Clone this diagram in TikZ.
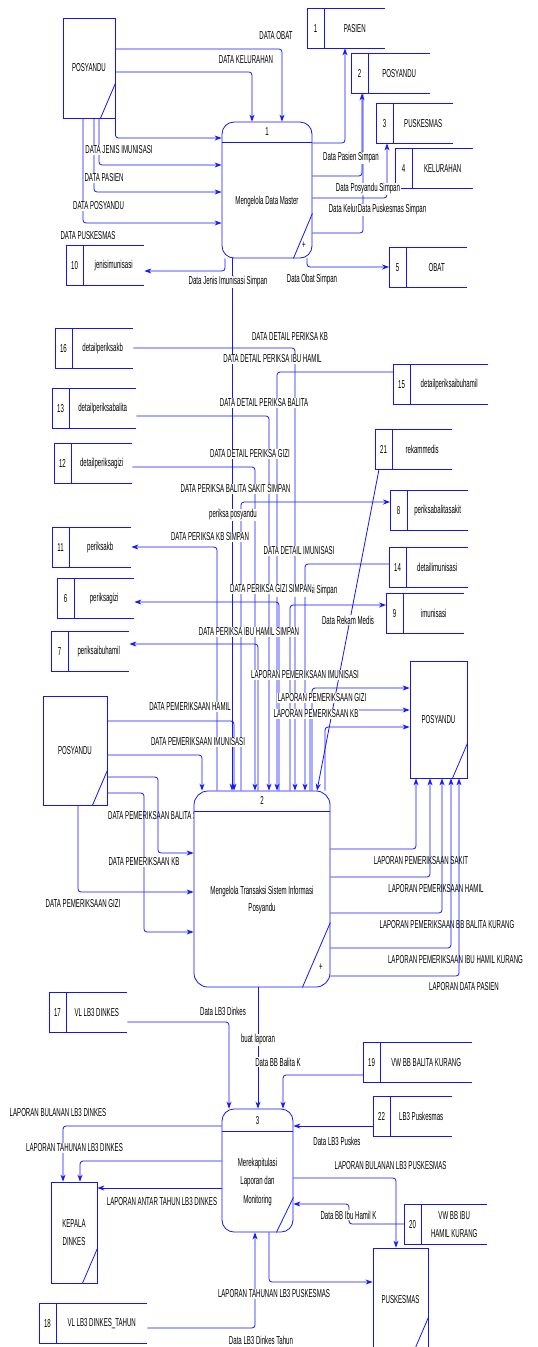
\documentclass[tikz,border=0pt]{standalone}
\usepackage{fontspec}
\setmainfont[FakeStretch=0.53]{Liberation Sans}
\usepackage{tikz}
\usetikzlibrary{arrows.meta,calc,positioning}
\definecolor{dfdblue}{RGB}{20,20,255}

% data store: name, left x, top y, width, number, label
\newcommand{\datastore}[6]{%
  \node[storebox, minimum width=#4pt, anchor=north west] (#1) at (#2,#3) {};
  \draw[line] (#1.north east) -- (#1.north west) -- (#1.south west) -- (#1.south east);
  \draw[line] ([xshift=17pt]#1.north west) -- ([xshift=17pt]#1.south west);
  \node (#1num) at ($(#1.west)+(8.5,0)$) {#5};
  \node[align=center, font=\fontsize{11.5}{18}\selectfont] (#1txt) at ($(#1.center)+(8.5,0)$) {#6};
}

\begin{document}
\begin{tikzpicture}[
        x=1pt, y=-1pt,
        every node/.style={font=\fontsize{11.5}{13}\selectfont, inner sep=1pt},
        line/.style={draw=dfdblue, line width=0.8pt},
        flow/.style={line, rounded corners=3pt, -{Stealth[length=7pt,width=5pt]}},
        lbl/.style={fill=white, inner sep=0.6pt},
        clear/.style={inner sep=0.6pt},
        entity/.style={draw=dfdblue, line width=0.8pt, inner sep=0pt, align=center, font=\fontsize{11.5}{18}\selectfont},
        process/.style={draw=dfdblue, line width=0.8pt, fill=white},
        storebox/.style={inner sep=0pt, minimum height=40pt}
    ]
    \useasboundingbox (0,0) rectangle (538,1347);

    % External entities
    \node[entity, minimum width=52pt, minimum height=100pt] (posyA) at (89,68) {POSYANDU};
    \node[entity, minimum width=57pt, minimum height=117pt] (posyB) at (438.5,719.5) {POSYANDU};
    \node[entity, minimum width=64pt, minimum height=109pt] (posyC) at (75,750.5) {POSYANDU};
    \node[entity, minimum width=46pt, minimum height=101pt] (kepala) at (74,1232.5) {KEPALA\\DINKES};
    \node[entity, minimum width=55pt, minimum height=104pt] (puskE) at (400.5,1300) {PUSKESMAS};
    \foreach \e in {posyA,posyB,posyC,kepala,puskE}
      \draw[line] ($(\e.south east)+(0,-35)$) -- ($(\e.south east)+(-15,0)$);

    % Data stores
    \datastore{pasienS}{307}{8}{78}{1}{PASIEN}
    \datastore{posyS}{351}{53}{79}{2}{POSYANDU}
    \datastore{puskS}{376}{103}{77}{3}{PUSKESMAS}
    \datastore{kelS}{395}{148}{78}{4}{KELURAHAN}
    \datastore{obatS}{389}{247}{78}{5}{OBAT}
    \datastore{jenisS}{66}{245}{78}{10}{jenisimunisasi}
    \datastore{dpkbS}{55}{328}{78}{16}{detailperiksakb}
    \datastore{dpihS}{393}{364}{95}{15}{detailperiksaibuhamil}
    \datastore{dpbS}{52}{388}{84}{13}{detailperiksabalita}
    \datastore{rekamS}{375}{429}{77}{21}{rekammedis}
    \datastore{dpgS}{54}{443}{78}{12}{detailperiksagizi}
    \datastore{pbsS}{390}{490}{78}{8}{periksabalitasakit}
    \datastore{pkbS}{52}{527}{79}{11}{periksakb}
    \datastore{dimS}{389}{547}{79}{14}{detailimunisasi}
    \datastore{pgS}{57}{578}{77}{6}{periksagizi}
    \datastore{imS}{386}{593}{78}{9}{imunisasi}
    \datastore{pihS}{51}{631}{78}{7}{periksaibuhamil}
    \datastore{vlaS}{49}{992}{78}{17}{VL LB3 DINKES}
    \datastore{vwbS}{363}{1042}{109}{19}{VW BB BALITA KURANG}
    \datastore{lbpS}{373}{1096}{79}{22}{LB3 Puskesmas}
    \datastore{vwiS}{404}{1204}{83}{20}{VW BB IBU\\HAMIL KURANG}
    \datastore{vltS}{39}{1303}{108}{18}{VL LB3 DINKES\_TAHUN}

    % hidden label behind process 2
    \node[anchor=west] (lBalita) at (107,816) {DATA PEMERIKSAAN BALITA SAKIT};

    % Processes
    \node[process, rounded corners=12pt, minimum width=90pt, minimum height=136pt] (p1) at (267,190) {};
    \draw[line] ($(p1.north west)+(0,21)$) -- ($(p1.north east)+(0,21)$);
    \node (p1num) at ($(p1.north)+(0,10)$) {1};
    \node (p1txt) at (267,202) {Mengelola Data Master};
    \draw[line] ($(p1.south east)+(0,-45)$) -- ($(p1.south east)+(-19,0)$);
    \node (p1plus) at (304,245) {+};

    \node[process, rounded corners=14pt, minimum width=136pt, minimum height=196pt] (p2) at (262,889) {};
    \draw[line] ($(p2.north west)+(0,21)$) -- ($(p2.north east)+(0,21)$);
    \node (p2num) at ($(p2.north)+(0,10)$) {2};
    \node[align=center, font=\fontsize{11.5}{17}\selectfont] (p2txt) at (262,900) {Mengelola Transaksi Sistem Informasi\\Posyandu};
    \draw[line] ($(p2.south east)+(0,-65)$) -- ($(p2.south east)+(-28,0)$);
    \node (p2plus) at (321,967) {+};

    \node[process, rounded corners=12pt, minimum width=71pt, minimum height=123pt] (p3) at (257.5,1170.5) {};
    \draw[line] ($(p3.north west)+(0,23)$) -- ($(p3.north east)+(0,23)$);
    \node (p3num) at ($(p3.north)+(0,12)$) {3};
    \node[align=center, font=\fontsize{11.5}{18.5}\selectfont] (p3txt) at (257.5,1182) {Merekapitulasi\\Laporan dan\\Monitoring};
    \draw[line] ($(p3.south east)+(0,-35)$) -- ($(p3.south east)+(-17,0)$);

    % Flows of process 1
    \draw[flow] (posyA.east |- 0,49) -| (p1.north -| 282,0);
    \draw[flow] (posyA.east |- 0,72) -| (p1.north -| 252,0);
    \draw[flow] (posyA.south east) |- (p1.west |- 0,138);
    \draw[flow] (posyA.south -| 99,0) |- (p1.west |- 0,165);
    \draw[flow] (posyA.south -| 94,0) |- (p1.west |- 0,192);
    \draw[flow] (posyA.south -| 83,0) |- (p1.west |- 0,223);
    \draw[flow] (p1.east |- 0,143) -| (pasienS.south -| 345,0);
    \draw[flow] (p1.east |- 0,176) -| (posyS.south -| 362,0);
    \draw[flow] (p1.east |- 0,198) -| (puskS.south -| 387,0);
    \draw[line, rounded corners=3pt] (p1.east |- 0,233) -| (posyS.south -| 363,0);
    \draw[flow] (p1.south -| 307,0) |- (obatS.west |- 0,267);
    \draw[flow] (p1.south -| 225,0) |- (jenisS.east |- 0,271);
    \draw[flow] (p1.south -| 232,0) -- (p2.north -| 232,0);

    % Flows of process 2, top
    \draw[flow] (dpkbS.east |- 0,348) -| (p2.north -| 295,0);
    \draw[flow] (dpihS.west |- 0,372) -| (p2.north -| 277,0);
    \draw[flow] (dpbS.east |- 0,416) -| (p2.north -| 269,0);
    \draw[flow] (dpgS.east |- 0,467) -| (p2.north -| 255,0);
    \draw[flow] (p2.north -| 241,0) |- (pbsS.west |- 0,502);
    \draw[flow] (p2.north -| 217,0) |- (pkbS.east |- 0,547);
    \draw[flow] (dimS.west |- 0,564) -| (p2.north -| 305,0);
    \draw[flow] (rekamS.south -| 379,0) -- (p2.north -| 317,0);
    \draw[flow] (p2.north -| 279,0) |- (pgS.east |- 0,602);
    \draw[flow] (p2.north -| 290,0) |- (imS.west |- 0,605);
    \draw[flow] (p2.north -| 258,0) |- (pihS.east |- 0,644);
    \draw[flow] (p2.north -| 312,0) |- (posyB.west |- 0,688);
    \draw[flow] (p2.north -| 310,0) |- (posyB.west |- 0,710);
    \draw[flow] (p2.north -| 325,0) |- (posyB.west |- 0,727);

    % Flows of process 2, left and right
    \draw[flow] (posyC.east |- 0,721) -| (p2.north -| 234,0);
    \draw[flow] (posyC.east |- 0,755) -| (p2.north -| 202,0);
    \draw[flow] (posyC.east |- 0,777) -| (158,853) -- (p2.west |- 0,853);
    \draw[flow] (posyC.south -| 78,0) |- (p2.west |- 0,892);
    \draw[flow] (posyC.east |- 0,793) -| (144,932) -- (p2.west |- 0,932);
    \draw[flow] (p2.east |- 0,849) -| (posyB.south -| 416,0);
    \draw[flow] (p2.east |- 0,877) -| (posyB.south -| 430,0);
    \draw[flow] (p2.east |- 0,913) -| (posyB.south -| 442,0);
    \draw[flow] (p2.east |- 0,948) -| (posyB.south -| 451,0);
    \draw[flow] (p2.east |- 0,976) -| (posyB.south -| 459,0);

    % Flows of process 3
    \draw[flow] (p2.south -| 258,0) -- (p3.north -| 258,0);
    \draw[flow] (vlaS.east |- 0,1022) -| (p3.north -| 229,0);
    \draw[flow] (vwbS.west |- 0,1075) -| (p3.north -| 283,0);
    \draw[flow] (lbpS.west |- 0,1126) -- (p3.east |- 0,1126);
    \draw[flow] (p3.east |- 0,1178) -| (puskE.north -| 396,0);
    \draw[flow] (vwiS.west |- 0,1224) -| (349,1204) -- (p3.east |- 0,1204);
    \draw[flow] (p3.south -| 269,0) |- (puskE.west |- 0,1282);
    \draw[flow] (vltS.east |- 0,1328) -| (p3.south -| 255,0);
    \draw[flow] (p3.west |- 0,1126) -| (kepala.north -| 63,0);
    \draw[flow] (p3.west |- 0,1161) -| (kepala.north -| 80,0);
    \draw[flow] (p3.west |- 0,1188) -- (kepala.east |- 0,1188);

    % Labels
    \node[lbl] (lObat) at (276,36) {DATA OBAT};
    \node[lbl] (lKel) at (246,60) {DATA KELURAHAN};
    \node[lbl] (lJenis) at (119,150) {DATA JENIS IMUNISASI};
    \node[lbl] (lPasien) at (104,178) {DATA PASIEN};
    \node[lbl] (lPosy) at (98.5,206) {DATA POSYANDU};
    \node[lbl] (lPusk) at (88,236) {DATA PUSKESMAS};
    \node[lbl] (lPasienS) at (351,158) {Data Pasien Simpan};
    \node[lbl] (lPosyS) at (368,189) {Data Posyandu Simpan};
    \node[lbl, anchor=west] (lKelS) at (328,210) {Data Kelurahan Simpan};
    \node[lbl] (lPuskS) at (392,210) {Data Puskesmas Simpan};
    \node[lbl] (lJenisS) at (228,282) {Data Jenis Imunisasi Simpan};
    \node[lbl] (lObatS) at (312,280) {Data Obat Simpan};
    \node[lbl] (lDpkb) at (290,337) {DATA DETAIL PERIKSA KB};
    \node[lbl] (lDpih) at (272.5,359) {DATA DETAIL PERIKSA IBU HAMIL};
    \node[lbl] (lDpb) at (264,403) {DATA DETAIL PERIKSA BALITA};
    \node[lbl] (lDpg) at (250,454) {DATA DETAIL PERIKSA GIZI};
    \node[lbl] (lPbs) at (235.5,489) {DATA PERIKSA BALITA SAKIT SIMPAN};
    \node[lbl] (lP12) at (233,515) {periksa posyandu};
    \node[lbl] (lPkb) at (210,537) {DATA PERIKSA KB SIMPAN};
    \node[lbl] (lDim) at (299,551) {DATA DETAIL IMUNISASI};
    \node[lbl, anchor=east] (lImS) at (338,591) {Data Imunisasi Simpan};
    \node[lbl] (lPg) at (271,589) {DATA PERIKSA GIZI SIMPAN};
    \node[lbl] (lRekam) at (348,620) {Data Rekam Medis};
    \node[lbl] (lPih) at (249,632) {DATA PERIKSA IBU HAMIL SIMPAN};
    \node[lbl] (lLapIm) at (305,675) {LAPORAN PEMERIKSAAN IMUNISASI};
    \node[lbl] (lLapGz) at (322,698) {LAPORAN PEMERIKSAAN GIZI};
    \node[lbl] (lLapKb) at (316,714) {LAPORAN PEMERIKSAAN KB};
    \node[lbl] (lHamil) at (190,707) {DATA PEMERIKSAAN HAMIL};
    \node[lbl] (lImun) at (198,742) {DATA PEMERIKSAAN IMUNISASI};
    \node[lbl] (lKb) at (144,862) {DATA PEMERIKSAAN KB};
    \node[lbl] (lGizi) at (83,904) {DATA PEMERIKSAAN GIZI};
    \node[clear] (lLapSk) at (421,861) {LAPORAN PEMERIKSAAN SAKIT};
    \node[clear] (lLapHm) at (436,889) {LAPORAN PEMERIKSAAN HAMIL};
    \node[clear] (lLapBb) at (447,925) {LAPORAN PEMERIKSAAN BB BALITA KURANG};
    \node[clear] (lLapIh) at (455.5,960) {LAPORAN PEMERIKSAAN IBU HAMIL KURANG};
    \node[clear] (lLapPs) at (464,987) {LAPORAN DATA PASIEN};
    \node[lbl] (lLb3) at (223,1011) {Data LB3 Dinkes};
    \node[lbl] (lBuat) at (258,1040) {buat laporan};
    \node[lbl] (lBbBal) at (278,1062) {Data BB Balita K};
    \node[lbl] (lBulD) at (58,1113) {LAPORAN BULANAN LB3 DINKES};
    \node[lbl] (lLb3P) at (337,1141) {Data LB3 Puskes};
    \node[lbl] (lTahD) at (74.5,1148) {LAPORAN TAHUNAN LB3 DINKES};
    \node[lbl] (lBulP) at (390.5,1166) {LAPORAN BULANAN LB3 PUSKESMAS};
    \node[lbl] (lAntar) at (162,1202) {LAPORAN ANTAR TAHUN LB3 DINKES};
    \node[lbl] (lBbIbu) at (348.5,1215) {Data BB Ibu Hamil K};
    \node[lbl] (lTahP) at (274,1294) {LAPORAN TAHUNAN LB3 PUSKESMAS};
    \node[lbl] (lLb3T) at (261,1340) {Data LB3 Dinkes Tahun};

\end{tikzpicture}
\end{document}
